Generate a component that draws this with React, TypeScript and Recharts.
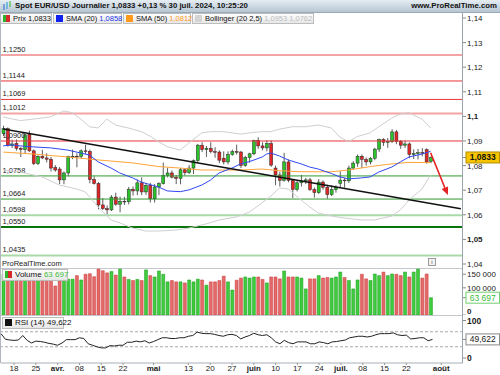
import React from 'react';
import { ComposedChart, Bar, Line, XAxis, YAxis, ReferenceLine, Cell } from 'recharts';

// ---------- data ----------
const SLOT_COUNT = 107; // 100 trading days + empty slots up to the right edge

const opens = [
  1.0930, 1.0950, 1.0882, 1.0890, 1.0870, 1.0865, 1.0928, 1.0860, 1.0808, 1.0838,
  1.0831, 1.0826, 1.0792, 1.0786, 1.0742, 1.0770, 1.0837, 1.0838, 1.0837, 1.0860,
  1.0858, 1.0743, 1.0727, 1.0640, 1.0625, 1.0620, 1.0672, 1.0643, 1.0655, 1.0653,
  1.0704, 1.0697, 1.0730, 1.0693, 1.0720, 1.0665, 1.0713, 1.0727, 1.0760, 1.0770,
  1.0753, 1.0748, 1.0783, 1.0771, 1.0790, 1.0820, 1.0883, 1.0865, 1.0870, 1.0857,
  1.0855, 1.0830, 1.0815, 1.0845, 1.0857, 1.0855, 1.0800, 1.0833, 1.0848, 1.0903,
  1.0880, 1.0872, 1.0890, 1.0790, 1.0762, 1.0740, 1.0815, 1.0740, 1.0703, 1.0730,
  1.0738, 1.0742, 1.0702, 1.0690, 1.0733, 1.0712, 1.0682, 1.0702, 1.0728, 1.0741,
  1.0738, 1.0790, 1.0810, 1.0838, 1.0825, 1.0815, 1.0830, 1.0867, 1.0906, 1.0895,
  1.0897, 1.0937, 1.0898, 1.0883, 1.0888, 1.0845, 1.0849, 1.0853, 1.0865, 1.0817,
];
const highs = [
  1.0962, 1.0955, 1.0905, 1.0906, 1.0875, 1.0930, 1.0942, 1.0865, 1.0842, 1.0864,
  1.0850, 1.0835, 1.0802, 1.0794, 1.0776, 1.0840, 1.0865, 1.0850, 1.0866, 1.0885,
  1.0865, 1.0756, 1.0733, 1.0668, 1.0638, 1.0680, 1.0690, 1.0674, 1.0673, 1.0713,
  1.0715, 1.0743, 1.0752, 1.0730, 1.0730, 1.0725, 1.0732, 1.0812, 1.0790, 1.0780,
  1.0762, 1.0790, 1.0790, 1.0802, 1.0825, 1.0888, 1.0895, 1.0880, 1.0895, 1.0875,
  1.0862, 1.0858, 1.0858, 1.0865, 1.0885, 1.0860, 1.0840, 1.0852, 1.0905, 1.0915,
  1.0895, 1.0903, 1.0902, 1.0800, 1.0775, 1.0852, 1.0825, 1.0742, 1.0738, 1.0762,
  1.0750, 1.0750, 1.0711, 1.0745, 1.0740, 1.0722, 1.0720, 1.0720, 1.0777, 1.0750,
  1.0800, 1.0818, 1.0845, 1.0845, 1.0833, 1.0835, 1.0872, 1.0910, 1.0911, 1.0912,
  1.0948, 1.0945, 1.0904, 1.0902, 1.0894, 1.0866, 1.0868, 1.0871, 1.0870, 1.0838,
];
const lows = [
  1.0920, 1.0877, 1.0872, 1.0861, 1.0835, 1.0850, 1.0855, 1.0802, 1.0802, 1.0826,
  1.0813, 1.0776, 1.0775, 1.0725, 1.0724, 1.0756, 1.0826, 1.0793, 1.0828, 1.0846,
  1.0728, 1.0723, 1.0622, 1.0620, 1.0601, 1.0615, 1.0637, 1.0610, 1.0640, 1.0642,
  1.0678, 1.0680, 1.0680, 1.0681, 1.0650, 1.0650, 1.0680, 1.0723, 1.0752, 1.0748,
  1.0725, 1.0724, 1.0760, 1.0766, 1.0765, 1.0812, 1.0855, 1.0835, 1.0850, 1.0832,
  1.0810, 1.0805, 1.0805, 1.0840, 1.0845, 1.0790, 1.0795, 1.0812, 1.0842, 1.0868,
  1.0862, 1.0858, 1.0795, 1.0720, 1.0715, 1.0735, 1.0732, 1.0668, 1.0695, 1.0715,
  1.0725, 1.0697, 1.0670, 1.0685, 1.0702, 1.0665, 1.0676, 1.0690, 1.0710, 1.0710,
  1.0730, 1.0785, 1.0795, 1.0790, 1.0800, 1.0805, 1.0822, 1.0855, 1.0880, 1.0872,
  1.0892, 1.0887, 1.0868, 1.0872, 1.0830, 1.0827, 1.0825, 1.0838, 1.0808, 1.0810,
];
const closes = [
  1.0950, 1.0882, 1.0888, 1.0870, 1.0865, 1.0925, 1.0860, 1.0808, 1.0838, 1.0831,
  1.0826, 1.0790, 1.0782, 1.0742, 1.0770, 1.0837, 1.0838, 1.0837, 1.0860, 1.0858,
  1.0743, 1.0727, 1.0640, 1.0625, 1.0620, 1.0672, 1.0643, 1.0655, 1.0653, 1.0704,
  1.0697, 1.0730, 1.0693, 1.0720, 1.0665, 1.0713, 1.0727, 1.0760, 1.0770, 1.0753,
  1.0748, 1.0783, 1.0771, 1.0790, 1.0820, 1.0883, 1.0865, 1.0870, 1.0857, 1.0855,
  1.0822, 1.0815, 1.0845, 1.0857, 1.0855, 1.0800, 1.0833, 1.0848, 1.0903, 1.0880,
  1.0872, 1.0890, 1.0802, 1.0762, 1.0740, 1.0815, 1.0740, 1.0703, 1.0730, 1.0738,
  1.0742, 1.0702, 1.0690, 1.0733, 1.0712, 1.0682, 1.0702, 1.0712, 1.0741, 1.0738,
  1.0790, 1.0810, 1.0838, 1.0825, 1.0815, 1.0830, 1.0867, 1.0906, 1.0895, 1.0897,
  1.0937, 1.0898, 1.0883, 1.0888, 1.0845, 1.0849, 1.0853, 1.0851, 1.0815, 1.0833,
];
const volumes = [
  150000, 155000, 128000, 145000, 150000, 160000, 165000, 155000, 140000, 140000,
  135000, 145000, 107000, 125000, 130000, 132000, 132000, 145000, 129000, 150000,
  152000, 141000, 169000, 163000, 155000, 160000, 147000, 169000, 140000, 131000,
  127000, 131000, 127000, 166000, 145000, 140000, 162000, 150000, 122000, 127000,
  122000, 122000, 118000, 129000, 122000, 132000, 129000, 110000, 122000, 122000,
  127000, 143000, 122000, 92000, 128000, 136000, 140000, 136000, 140000, 140000,
  131000, 118000, 140000, 140000, 133000, 162000, 140000, 140000, 140000, 136000,
  96000, 133000, 133000, 145000, 136000, 138000, 136000, 140000, 158000, 138000,
  127000, 96000, 129000, 150000, 133000, 127000, 151000, 145000, 158000, 145000,
  151000, 150000, 145000, 158000, 140000, 158000, 169000, 136000, 151000, 63697,
];
const rsiValues = [
  65, 50, 48, 47, 48, 60, 47, 40, 45, 44,
  42, 39, 37, 34, 40, 49, 49, 49, 54, 52,
  38, 34, 30, 27, 27, 33, 32, 34, 34, 42,
  42, 45, 43, 46, 40, 44, 49, 54, 54, 52,
  52, 54, 54, 58, 60, 69, 66, 65, 65, 63,
  60, 58, 62, 63, 60, 51, 56, 60, 66, 62,
  60, 62, 54, 43, 38, 47, 41, 38, 43, 43,
  43, 38, 38, 43, 41, 38, 43, 44, 46, 48,
  54, 56, 58, 58, 56, 58, 62, 65, 65, 65,
  67, 62, 60, 61, 51, 52, 54, 54, 46, 49.622,
];
// indicator lines at [day index, value]
const sma20Points = [
  [0, 1.0880], [2, 1.0884], [4, 1.0880], [7, 1.0876], [11, 1.0872], [15, 1.0863], [18, 1.0851],
  [20, 1.0843], [22, 1.0815], [25, 1.0790], [27, 1.0770], [30, 1.0750], [32, 1.0733], [36, 1.0713],
  [38, 1.0697], [41, 1.0694], [43, 1.0701], [46, 1.0721], [48, 1.0741], [50, 1.0770], [53, 1.0790],
  [55, 1.0807], [57, 1.0816], [60, 1.0835], [61, 1.0847], [62, 1.0851], [64, 1.0839], [66, 1.0823],
  [69, 1.0807], [71, 1.0794], [73, 1.0786], [76, 1.0768], [78, 1.0754], [80, 1.0746], [83, 1.0750],
  [85, 1.0754], [87, 1.0774], [90, 1.0794], [92, 1.0815], [94, 1.0835], [97, 1.0847], [99, 1.0858],
];
const sma50Points = [
  [0, 1.0855], [7, 1.0847], [15, 1.0835], [22, 1.0823], [30, 1.0811], [36, 1.0796], [41, 1.0790],
  [46, 1.0782], [50, 1.0782], [55, 1.0782], [60, 1.0786], [64, 1.0779], [69, 1.0775], [73, 1.0775],
  [76, 1.0775], [80, 1.0782], [85, 1.0796], [90, 1.0807], [94, 1.0813], [99, 1.0812],
];
const bbUpperPoints = [
  [0, 1.0998], [2, 1.0990], [4, 1.0983], [7, 1.0989], [11, 1.0998], [14, 1.1022], [16, 1.1015],
  [18, 1.0989], [20, 1.0958], [22, 1.0953], [24, 1.0989], [26, 1.0965], [29, 1.0953], [32, 1.0938],
  [34, 1.0920], [36, 1.0897], [38, 1.0877], [41, 1.0863], [43, 1.0892], [46, 1.0933], [48, 1.0938],
  [51, 1.0938], [55, 1.0928], [57, 1.0933], [60, 1.0938], [62, 1.0938], [64, 1.0948], [67, 1.0958],
  [70, 1.0958], [73, 1.0965], [76, 1.0953], [78, 1.0916], [80, 1.0897], [82, 1.0918], [85, 1.0933],
  [87, 1.0958], [90, 1.0993], [92, 1.1010], [94, 1.1015], [97, 1.0989], [99, 1.0953],
];
const bbLowerPoints = [
  [0, 1.0782], [4, 1.0774], [9, 1.0754], [13, 1.0721], [17, 1.0705], [19, 1.0693], [22, 1.0632],
  [25, 1.0579], [27, 1.0567], [30, 1.0546], [33, 1.0534], [36, 1.0534], [40, 1.0538], [43, 1.0546],
  [47, 1.0563], [50, 1.0579], [54, 1.0591], [57, 1.0611], [59, 1.0636], [62, 1.0676], [64, 1.0709],
  [66, 1.0705], [69, 1.0660], [71, 1.0632], [73, 1.0607], [76, 1.0595], [79, 1.0587], [83, 1.0579],
  [86, 1.0579], [90, 1.0595], [92, 1.0620], [94, 1.0660], [97, 1.0705], [99, 1.0762],
];
const levelValues = [1.1250, 1.1144, 1.1069, 1.1012, 1.0900, 1.0758, 1.0664, 1.0598, 1.0550, 1.0435];
const trendStart = { i: 0, v: 1.0949 };
const trendEnd = { i: 106, v: 1.0625 };
const arrowStart = { i: 99, v: 1.0852 };
const arrowEnd = { i: 103, v: 1.0680 };
const priceTicks = [1.04, 1.05, 1.06, 1.07, 1.08, 1.09, 1.1, 1.11, 1.12, 1.13, 1.14];
const volumeTicks = [0, 100000, 150000];
const rsiTicks = [0, 100];
const rsiBands = [70, 30];
const dateTickIndex = [3, 8, 13, 18, 23, 28, 35, 43, 48, 53, 58, 63, 68, 73, 78, 83, 88, 93, 101];
const dateTickLabel = ['18', '25', 'avr.', '08', '15', '22', 'mai', '13', '20', '27', 'juin', '10', '17', '24', 'juil.', '08', '15', '22', 'août'];
const monthLabels = ['avr.', 'mai', 'juin', 'juil.', 'août'];

// ---------- styles ----------
const FONT = '"Liberation Sans", Arial, Helvetica, sans-serif';
const levelStyle: Record<string, { stroke: string; w: number }> = {
  '1.125': { stroke: '#f4a4a4', w: 2 },
  '1.1144': { stroke: '#e8343a', w: 1 },
  '1.1069': { stroke: '#e8343a', w: 1 },
  '1.1012': { stroke: '#f4a4a4', w: 2 },
  '1.09': { stroke: '#e8343a', w: 1 },
  '1.0758': { stroke: '#2f9a2f', w: 1 },
  '1.0664': { stroke: '#2f9a2f', w: 1 },
  '1.0598': { stroke: '#a9d9a9', w: 2 },
  '1.055': { stroke: '#0b730b', w: 2 },
  '1.0435': { stroke: '#a9d9a9', w: 2 },
};

const lookup = (pts: number[][], i: number) => {
  const f = pts.find((p) => p[0] === i);
  return f ? f[1] : null;
};

const rows = Array.from({ length: SLOT_COUNT }, (_, i) => {
  const has = i < opens.length;
  return {
    i,
    o: has ? opens[i] : null,
    h: has ? highs[i] : null,
    l: has ? lows[i] : null,
    c: has ? closes[i] : null,
    range: has ? [lows[i], highs[i]] : null,
    vol: has ? volumes[i] : null,
    rsi: has ? rsiValues[i] : null,
    sma20: lookup(sma20Points, i),
    sma50: lookup(sma50Points, i),
    bbU: lookup(bbUpperPoints, i),
    bbL: lookup(bbLowerPoints, i),
  };
});

const fmtPrice = (v: number) => String(Number(v.toFixed(2))).replace('.', ',');
const fmtVol = (v: number) => String(Math.round(v)).replace(/\B(?=(\d{3})+(?!\d))/g, ' ');

const Candle = (props: any) => {
  const { x, y, width, height, payload } = props;
  if (!payload || payload.o == null) return null;
  const { o, h, l, c } = payload;
  const top = Math.min(y, y + height);
  const hh = Math.abs(height);
  const span = h - l || 1e-9;
  const yOf = (v: number) => top + ((h - v) / span) * hh;
  const cx = x + width / 2;
  const bTop = yOf(Math.max(o, c));
  const bBot = yOf(Math.min(o, c));
  const up = c >= o;
  return (
    <g>
      <line x1={cx} x2={cx} y1={top} y2={top + hh} stroke="#333" strokeWidth={0.8} />
      <rect x={x} y={bTop} width={width} height={Math.max(bBot - bTop, 0.7)}
        fill={up ? '#2ac42a' : '#e02626'} stroke="#2a2a2a" strokeWidth={0.5} />
    </g>
  );
};

const PriceTick = (p: any) => {
  const v = p.payload.value;
  const bold = Math.abs(v - 1.1) < 1e-9 || Math.abs(v - 1.05) < 1e-9;
  return (
    <text x={p.x} y={p.y} dy={3} fontSize={8} fontFamily={FONT} fill="#222" textAnchor="start"
      fontWeight={bold ? 'bold' : 'normal'}>{fmtPrice(v)}</text>
  );
};
const VolTick = (p: any) => {
  const v = p.payload.value;
  return (
    <text x={p.x} y={p.y} dy={v === 0 ? -1 : 3} fontSize={8} fontFamily={FONT} fill="#222" textAnchor="start"
      fontWeight={v === 0 ? 'bold' : 'normal'}>{fmtVol(v)}</text>
  );
};
const RsiTick = (p: any) => (
  <text x={p.x} y={p.y} dy={3} fontSize={8.5} fontFamily={FONT} fill="#222" textAnchor="start" fontWeight="bold">
    {p.payload.value}
  </text>
);
const DateTick = (p: any) => {
  const k = dateTickIndex.indexOf(p.payload.value);
  const label = dateTickLabel[k] ?? '';
  const bold = monthLabels.includes(label);
  return (
    <text x={p.x} y={p.y} dy={5} fontSize={8} fontFamily={FONT} fill="#222" textAnchor="middle"
      fontWeight={bold ? 'bold' : 'normal'}>{label}</text>
  );
};

const levelShape = (v: number) => (p: any) => {
  const s = levelStyle[String(v)] || { stroke: '#e33', w: 1 };
  const left = Math.min(p.x1, p.x2);
  const right = Math.max(p.x1, p.x2);
  return (
    <g>
      <line x1={left} x2={right} y1={p.y1} y2={p.y2} stroke={s.stroke} strokeWidth={s.w} />
      <text x={left + 1.5} y={p.y1 - 3} fontSize={7.5} fontFamily={FONT} fill="#222">
        {v.toFixed(4).replace('.', ',')}
      </text>
    </g>
  );
};

const valueBox = (text: string, fill: string, stroke: string, color: string, bold: boolean) => (p: any) => {
  const right = Math.max(p.x1, p.x2);
  return (
    <g>
      <line x1={right} x2={right + 3} y1={p.y1} y2={p.y1} stroke="#888" />
      <rect x={right + 3} y={p.y1 - 5.5} width={33.5} height={11} fill={fill} stroke={stroke} strokeWidth={1} />
      <text x={right + 19.75} y={p.y1 + 3} textAnchor="middle" fontSize={8.5} fontFamily={FONT}
        fontWeight={bold ? 'bold' : 'normal'} fill={color}>{text}</text>
    </g>
  );
};

const arrowShape = (p: any) => {
  const ang = Math.atan2(p.y2 - p.y1, p.x2 - p.x1);
  const L = 8, Wd = 3.5;
  const bx = p.x2 - L * Math.cos(ang), by = p.y2 - L * Math.sin(ang);
  const nx = -Math.sin(ang) * Wd, ny = Math.cos(ang) * Wd;
  return (
    <g>
      <line x1={p.x1} y1={p.y1} x2={bx} y2={by} stroke="#e42222" strokeWidth={1.6} />
      <polygon points={`${p.x2},${p.y2} ${bx + nx},${by + ny} ${bx - nx},${by - ny}`} fill="#e42222" />
    </g>
  );
};

const boxStyle: React.CSSProperties = {
  position: 'absolute', height: 11, boxSizing: 'border-box', border: '1px solid #bcbcbc',
  background: 'linear-gradient(#fdfdfd,#e7e7e7)', fontSize: 7.5, lineHeight: '9px', color: '#111',
  whiteSpace: 'nowrap', fontFamily: FONT,
};
const sq = (bg: string): React.CSSProperties => ({
  display: 'inline-block', width: 7, height: 7, background: bg, verticalAlign: 'top', marginTop: 1, marginRight: 3, marginLeft: 2,
});
const PLOT_LEFT = 1;
const AXIS_W = 37;

export default function App() {
  const lastClose = closes[closes.length - 1];
  const lastVol = volumes[volumes.length - 1];
  const lastRsi = rsiValues[rsiValues.length - 1];
  return (
    <div style={{ position: 'absolute', left: 0, top: 0, width: 500, height: 375, overflow: 'hidden', background: '#fff', fontFamily: FONT }}>
      {/* price panel */}
      <div style={{ position: 'absolute', left: 0, top: 13 }}>
        <ComposedChart width={500} height={257} data={rows} margin={{ top: 0, right: 0, bottom: 6, left: PLOT_LEFT }}>
          <XAxis dataKey="i" type="category" hide />
          <YAxis orientation="right" width={AXIS_W} domain={[1.04, 1.14203]} ticks={priceTicks} interval={0}
            tick={PriceTick} tickLine={{ stroke: '#888' }} tickSize={3} tickMargin={1} axisLine={false} allowDataOverflow />
          {levelValues.map((v) => (
            <ReferenceLine key={v} y={v} shape={levelShape(v)} />
          ))}
          <Line dataKey="bbU" stroke="#cfcfcf" strokeWidth={1} dot={false} connectNulls isAnimationActive={false} />
          <Line dataKey="bbL" stroke="#cfcfcf" strokeWidth={1} dot={false} connectNulls isAnimationActive={false} />
          <Line dataKey="sma50" stroke="#ffa43a" strokeWidth={1} dot={false} connectNulls isAnimationActive={false} />
          <Line dataKey="sma20" stroke="#3048f0" strokeWidth={1} dot={false} connectNulls isAnimationActive={false} />
          <Bar dataKey="range" barSize={3} shape={(p: any) => <Candle {...p} />} isAnimationActive={false} />
          <ReferenceLine segment={[{ x: trendStart.i, y: trendStart.v }, { x: trendEnd.i, y: trendEnd.v }]}
            stroke="#111" strokeWidth={1.5} ifOverflow="visible" />
          <ReferenceLine segment={[{ x: arrowStart.i, y: arrowStart.v }, { x: arrowEnd.i, y: arrowEnd.v }]}
            shape={arrowShape} ifOverflow="visible" />
          <ReferenceLine y={lastClose} shape={valueBox('1,0833', '#f7c500', '#b48d00', '#111', true)} />
        </ComposedChart>
      </div>

      {/* header */}
      <div style={{ position: 'absolute', left: 0, top: 0, width: 500, height: 13, boxSizing: 'border-box',
        background: 'linear-gradient(#e6edf3,#b6c6d2)', borderBottom: '1px solid #99aab6' }}>
        <svg width={12} height={12} style={{ position: 'absolute', left: 2, top: 0 }}>
          <line x1={2} y1={4} x2={2} y2={10} stroke="#3a7bd5" strokeWidth={1.2} />
          <line x1={5} y1={2} x2={5} y2={9} stroke="#3aa0e0" strokeWidth={1.2} />
          <line x1={8} y1={1} x2={8} y2={7} stroke="#4cc04c" strokeWidth={1.2} />
        </svg>
        <div style={{ position: 'absolute', left: 15, top: 0, lineHeight: '12px', fontSize: 7.8, fontWeight: 'bold', color: '#111', whiteSpace: 'nowrap' }}>
          Spot EUR/USD Journalier 1,0833 +0,13 % 30 juil. 2024, 10:25:20
        </div>
        <div style={{ position: 'absolute', right: 3, top: 0, lineHeight: '12px', fontSize: 7.8, fontWeight: 'bold', color: '#111', whiteSpace: 'nowrap' }}>
          www.ProRealTime.com
        </div>
      </div>

      {/* legend row */}
      <div style={{ ...boxStyle, left: 0, top: 13, width: 52 }}>
        <span style={{ ...sq('linear-gradient(90deg,#2bb52b 50%,#d82a2a 50%)') }} />Prix 1,0833
      </div>
      <div style={{ ...boxStyle, left: 53, top: 13, width: 69 }}>
        <span style={sq('#1020f0')} />SMA (20) <span style={{ color: '#2438e8' }}>1,0858</span>
      </div>
      <div style={{ ...boxStyle, left: 123, top: 13, width: 68 }}>
        <span style={sq('#ff9a1a')} />SMA (50) <span style={{ color: '#ff9a1a' }}>1,0812</span>
      </div>
      <div style={{ ...boxStyle, left: 192, top: 13, width: 122 }}>
        <span style={sq('#d3d3d3')} />Bollinger (20 2,5) <span style={{ color: '#bdbdbd' }}>1,0953 1,0762</span>
      </div>

      {/* volume strip */}
      <div style={{ position: 'absolute', left: 1, top: 258, width: 461, height: 10, background: '#fff' }} />
      <div style={{ position: 'absolute', left: 2, top: 259, fontSize: 7.5, color: '#222', lineHeight: '9px' }}>ProRealTime.com</div>
      <div style={{ position: 'absolute', left: 428, top: 258, width: 8, height: 8, boxSizing: 'border-box', border: '1px solid #999',
        fontSize: 6, lineHeight: '6px', textAlign: 'center', color: '#555', background: '#f4f4f4' }}>i</div>
      <div style={{ position: 'absolute', left: 0, top: 268, width: 463, height: 1, background: '#c4c8cc' }} />

      {/* volume panel */}
      <div style={{ position: 'absolute', left: 0, top: 268 }}>
        <ComposedChart width={500} height={47} data={rows} margin={{ top: 0, right: 0, bottom: 0, left: PLOT_LEFT }}>
          <XAxis dataKey="i" type="category" hide />
          <YAxis orientation="right" width={AXIS_W} domain={[0, 173000]} ticks={volumeTicks} interval={0}
            tick={VolTick} tickLine={{ stroke: '#888' }} tickSize={3} tickMargin={1} axisLine={false} allowDataOverflow />
          <Bar dataKey="vol" barSize={3} isAnimationActive={false}>
            {rows.map((r) => {
              const up = r.c != null && r.o != null && r.c >= r.o;
              return <Cell key={r.i} fill={up ? '#3fcc3f' : '#e46a6a'} stroke={up ? '#1a9a1a' : '#c83a3a'} strokeWidth={0.5} />;
            })}
          </Bar>
          <ReferenceLine y={lastVol} shape={valueBox('63 697', '#ffffff', '#6fcf6f', '#3cbc3c', false)} />
        </ComposedChart>
      </div>
      <div style={{ position: 'absolute', left: 0, top: 315, width: 463, height: 1, background: '#c4c8cc' }} />

      {/* RSI panel */}
      <div style={{ position: 'absolute', left: 0, top: 316 }}>
        <ComposedChart width={500} height={59} data={rows} margin={{ top: 0, right: 0, bottom: 0, left: PLOT_LEFT }}>
          <XAxis dataKey="i" type="category" height={12} ticks={dateTickIndex} interval={0} tick={DateTick}
            tickLine={{ stroke: '#999' }} tickSize={2} tickMargin={1} axisLine={{ stroke: '#a8b0b8' }} />
          <YAxis orientation="right" width={AXIS_W} domain={[-13.3, 112]} ticks={rsiTicks} interval={0}
            tick={RsiTick} tickLine={{ stroke: '#888' }} tickSize={3} tickMargin={1} axisLine={false} allowDataOverflow />
          {rsiBands.map((b) => (
            <ReferenceLine key={b} y={b} stroke="#a8a8a8" strokeDasharray="3 2" />
          ))}
          <Line dataKey="rsi" stroke="#222" strokeWidth={1} dot={false} isAnimationActive={false} />
          <ReferenceLine y={lastRsi} shape={valueBox('49,622', '#ffffff', '#8a8a8a', '#222', false)} />
        </ComposedChart>
      </div>

      {/* legends over lower panels */}
      <div style={{ ...boxStyle, left: 2, top: 269, width: 66, height: 12, lineHeight: '10px', fontSize: 8 }}>
        <span style={sq('linear-gradient(90deg,#2bb52b 50%,#d82a2a 50%)')} />Volume <span style={{ color: '#3cbc3c' }}>63 697</span>
      </div>
      <div style={{ ...boxStyle, left: 2, top: 317, width: 62, height: 12, lineHeight: '10px', fontSize: 8 }}>
        <span style={sq('#111')} />RSI (14) 49,622
      </div>

      {/* frame lines */}
      <div style={{ position: 'absolute', left: 462, top: 13, width: 1, height: 350, background: '#9aa4ad' }} />
      <div style={{ position: 'absolute', left: 0, top: 13, width: 1, height: 350, background: '#b0b6bc' }} />
    </div>
  );
}
